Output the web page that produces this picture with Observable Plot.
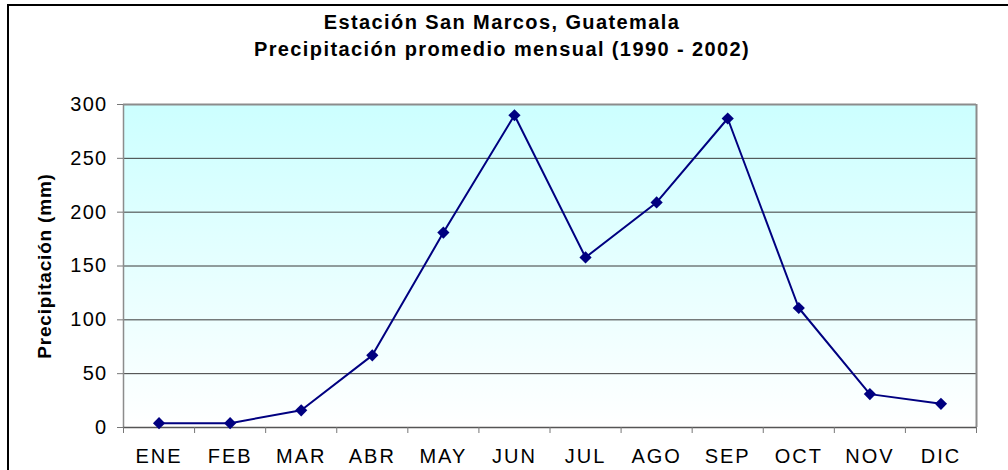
<!DOCTYPE html>
<html><head><meta charset="utf-8">
<script src="https://cdn.jsdelivr.net/npm/d3@7"></script>
<script src="https://cdn.jsdelivr.net/npm/@observablehq/plot@0.6"></script>
<style>
html,body{margin:0;padding:0;background:#fff;overflow:hidden;width:1008px;height:470px}
#wrap{position:relative;width:1008px;height:470px;overflow:hidden}
#frame{position:absolute;left:7px;top:4px;width:2000px;height:1000px;border-left:2px solid #000;border-top:2px solid #000}
#title{position:absolute;left:0;top:0;width:1004px;padding-top:9px;padding-right:4px;text-align:center;font:bold 20px "Liberation Sans",Arial,sans-serif;line-height:27px;letter-spacing:1.4px;color:#000;z-index:2}
#chart{position:absolute;left:0;top:0}
</style></head>
<body>
<div id="wrap">
  <div id="frame"></div>
  <div id="title">Estación San Marcos, Guatemala<br>Precipitación promedio mensual (1990 - 2002)</div>
  <div id="chart"></div>
</div>
<script>
const months = ["ENE","FEB","MAR","ABR","MAY","JUN","JUL","AGO","SEP","OCT","NOV","DIC"];
const precip = [4, 4, 16, 67, 181, 290, 158, 209, 287, 111, 31, 22];
const yTicks = [0, 50, 100, 150, 200, 250, 300];
const yLabel = "Precipitación (mm)";

const data = months.map((m, i) => ({pos: i + 0.5, month: m, value: precip[i]}));
const bounds = d3.range(months.length + 1);

const plot = Plot.plot({
  width: 1008, height: 470,
  marginTop: 104, marginLeft: 123, marginRight: 32, marginBottom: 43,
  x: {domain: [0, months.length], label: null},
  y: {domain: [0, 300], label: null},
  style: {fontFamily: '"Liberation Sans", Arial, sans-serif', fontSize: "20px", color: "#000", background: "transparent"},
  marks: [
    Plot.frame({fill: "url(#bg)", stroke: null}),
    Plot.ruleY(yTicks.filter(v => v > 0 && v < 300), {stroke: "#3a3a3a", strokeWidth: 1}),
    Plot.ruleY([300], {stroke: "#8c8c8c", strokeWidth: 2}),
    Plot.ruleX([months.length], {stroke: "#8c8c8c", strokeWidth: 2}),
    Plot.ruleX([0], {stroke: "#8c8c8c", strokeWidth: 1.5}),
    Plot.ruleY([0], {stroke: "#555", strokeWidth: 1.5}),
    Plot.axisY({ticks: yTicks, tickSize: 6, tickPadding: 10, tickFormat: d => String(d), stroke: "#777", label: null, fontSize: 20}),
    Plot.axisX({ticks: bounds, tickSize: 6, tickFormat: () => "", stroke: "#777", label: null}),
    Plot.axisX({ticks: data.map(d => d.pos), tickSize: 0, tickPadding: 21, tickFormat: p => months[Math.floor(p)], label: null, fontSize: 20}),
    Plot.text([yLabel], {frameAnchor: "left", textAnchor: "middle", rotate: -90, dx: -79, dy: 0, fontWeight: "bold", fontSize: 19, fill: "#000"}),
    Plot.line(data, {x: "pos", y: "value", stroke: "#000080", strokeWidth: 2}),
    Plot.dot(data, {x: "pos", y: "value", symbol: "diamond2", r: 5.5, fill: "#000080"})
  ]
});

const svg = d3.select(plot);
const defs = svg.insert("defs", ":first-child");
const grad = defs.append("linearGradient").attr("id", "bg").attr("x1", 0).attr("y1", 0).attr("x2", 0).attr("y2", 1);
grad.append("stop").attr("offset", "0%").attr("stop-color", "#ccffff");
grad.append("stop").attr("offset", "100%").attr("stop-color", "#ffffff");

svg.selectAll('g[aria-label="y-axis tick label"] text').style("letter-spacing", "1.3px");
svg.selectAll('g[aria-label="x-axis tick label"] text').style("letter-spacing", "2px");
svg.selectAll('g[aria-label="text"] text').style("letter-spacing", "0.8px");

document.getElementById("chart").appendChild(plot);
</script>
</body></html>
